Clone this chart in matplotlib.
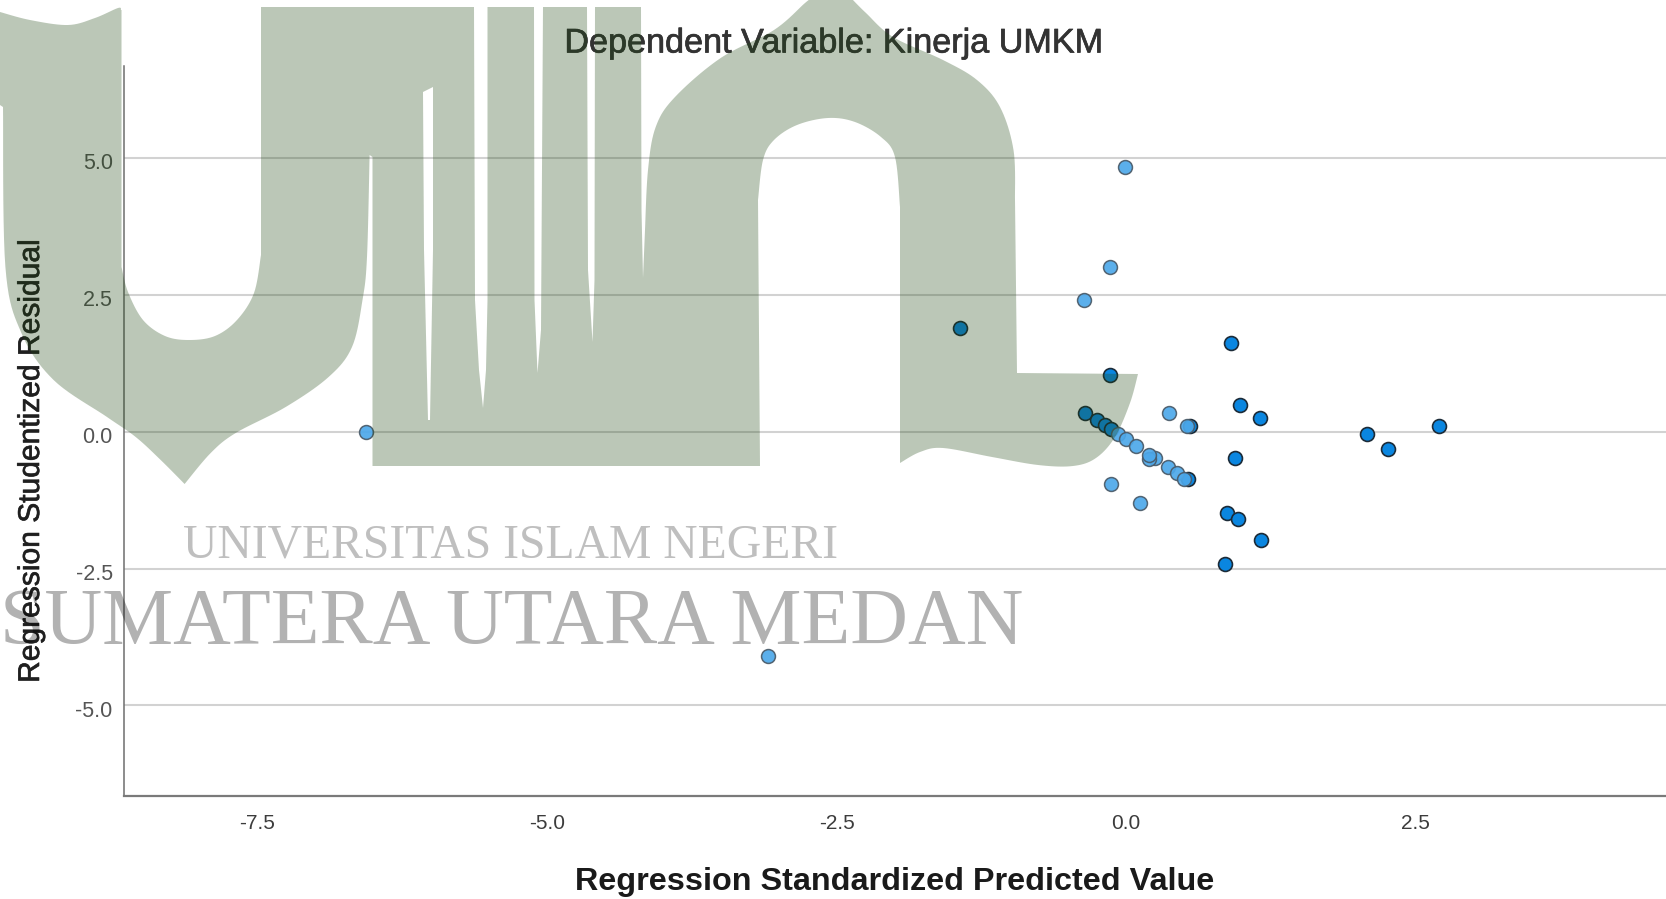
import numpy as np
import matplotlib
matplotlib.use("Agg")
import matplotlib.pyplot as plt
import matplotlib.patheffects as pe
from matplotlib.path import Path
from matplotlib.patches import PathPatch

W, H = 1666, 899
plt.rcParams['font.family'] = ['Liberation Sans', 'DejaVu Sans']

# ---- data ----
light_x = [-6.56, -3.09, -0.01, -0.14, -0.365, 0.374, 0.53, -0.132, 0.118,
           -0.066, 0.0, 0.089, 0.25, 0.201, 0.199, 0.363, 0.438, 0.504]
light_y = [-0.015, -4.09, 4.83, 3.01, 2.41, 0.345, 0.102, -0.951, -1.304,
           -0.044, -0.14, -0.268, -0.488, -0.506, -0.427, -0.652, -0.762, -0.865]
strong_x = [-1.43, -0.14, -0.351, -0.253, -0.181, -0.132, 0.535, 0.55, 0.91, 0.987,
            1.16, 0.941, 0.875, 0.97, 1.168, 0.855, 2.085, 2.26, 2.70]
strong_y = [1.90, 1.03, 0.345, 0.212, 0.12, 0.042, -0.865, 0.102, 1.61, 0.491,
            0.248, -0.478, -1.486, -1.60, -1.975, -2.42, -0.035, -0.31, 0.10]
x_ticks = [-7.5, -5.0, -2.5, 0.0, 2.5]
y_ticks = [-5.0, -2.5, 0.0, 2.5, 5.0]
title = "Dependent Variable: Kinerja UMKM"
x_label = "Regression Standardized Predicted Value"
y_label = "Regression Studentized Residual"
wm_line1 = "UNIVERSITAS ISLAM NEGERI"
wm_line2 = "SUMATERA UTARA MEDAN"

fig = plt.figure(figsize=(W / 100, H / 100), dpi=100, facecolor='white')
ax = fig.add_axes([123.8 / W, (H - 796.4) / H, (W - 123.8) / W, (796.4 - 66) / H])
ax.set_xlim(-8.655, 4.663)
ax.set_ylim(-6.66, 6.675)
for s in ('top', 'right'):
    ax.spines[s].set_visible(False)
ax.spines['left'].set_color('#6e6e6e')
ax.spines['left'].set_linewidth(1.1)
ax.spines['bottom'].set_color('#7a7a7a')
ax.spines['bottom'].set_linewidth(1.6)
ax.set_axisbelow(True)
ax.yaxis.grid(True, color='#d2d2d2', lw=1.5)
ax.xaxis.grid(False)
ax.set_xticks(x_ticks, [f"{v:.1f}" for v in x_ticks])
ax.set_yticks(y_ticks, [f"{v:.1f}" for v in y_ticks])
ax.tick_params(axis='x', length=0, pad=13, labelsize=15, labelcolor='#3c3c3c')
ax.tick_params(axis='y', length=0, pad=8, labelsize=15.5, labelcolor='#555555')
shift = matplotlib.transforms.ScaledTranslation(0, -2.5 / 72, fig.dpi_scale_trans)
for t in ax.get_yticklabels():
    t.set_transform(t.get_transform() + shift)

ax.scatter(strong_x, strong_y, s=100, c='#0a86e0', edgecolors='#1c2b38', linewidths=1.2, zorder=3)
ax.scatter(light_x, light_y, s=100, c='#4da8ea', edgecolors='#4a5a68', linewidths=1.1, alpha=0.92, zorder=4)

thick = [pe.withStroke(linewidth=0.5, foreground='#333333')]
fig.text(833 / W, 1 - 44 / H, title, ha='center', va='center', fontsize=24.6, color='#333333',
         path_effects=thick)
fig.text(895 / W, 1 - 882 / H, x_label, ha='center', va='center', fontsize=23.3,
         color='#1a1a1a', fontweight='bold')
fig.text(31 / W, 1 - 461 / H, y_label, ha='center', va='center', rotation=90, fontsize=21.6,
         color='#1f1f1f', path_effects=thick)


def smooth(pts, n=10):
    p = np.array([pts[0]] + list(pts) + [pts[-1]], float)
    out = []
    for i in range(1, len(p) - 2):
        for t in np.linspace(0, 1, n, endpoint=False):
            out.append(0.5 * ((2 * p[i]) + (-p[i - 1] + p[i + 1]) * t
                              + (2 * p[i - 1] - 5 * p[i] + 4 * p[i + 1] - p[i + 2]) * t ** 2
                              + (-p[i - 1] + 3 * p[i] - 3 * p[i + 1] + p[i + 2]) * t ** 3))
    out.append(p[-2])
    return out


# ---- watermark, laid over everything like the scanned original ----
wm = fig.add_axes([0, 0, 1, 1], zorder=10)
wm.set_xlim(0, W)
wm.set_ylim(H, 0)
wm.axis('off')
wm.patch.set_alpha(0)

outline = []
outline += smooth([(0, 12), (30, 20), (68, 25), (95, 18), (118, 8), (121, 10)])
outline += [(121.5, 10), (121.5, 267)]
outline += smooth([(121.5, 267), (128, 292), (143, 320), (165, 336), (189, 340),
                   (215, 336), (237, 320), (254, 293), (261, 255)])
outline += [(261, 7), (474, 7), (475, 300), (479, 370), (483, 408), (486, 370), (487.5, 300), (487.5, 7),
            (534, 7), (534.5, 300), (537.5, 373), (541, 330), (543, 7),
            (587, 7), (588, 270), (592.5, 342), (594.5, 280), (595, 7), (641, 7), (641.5, 210), (643, 278)]
outline += smooth([(645, 230), (648, 170), (655.7, 127), (675, 97), (720.7, 58), (774, 30), (805, 3), (812, -2)])
outline += smooth([(851, -2), (866, 13), (893, 37), (943, 60), (977, 80), (1000, 107), (1013.5, 150), (1015, 200)])
outline += [(1017, 373), (1138, 374)]
outline += smooth([(1138, 374), (1130, 403), (1115, 437), (1096, 458), (1073, 466), (1038, 465),
                   (992, 457), (943, 448), (920, 452), (900, 463)])
outline += [(900, 207)]
outline += smooth([(900, 207), (895, 157), (881, 137), (855, 122), (828, 118), (797, 125),
                   (774, 140), (763, 160), (758, 200)])
outline += [(760, 466), (372.5, 466), (372.5, 157), (369.6, 155)]
outline += smooth([(369.6, 155), (367, 257), (362.5, 300), (352, 347), (328.6, 377), (285.7, 407),
                   (235.7, 433), (210.7, 453), (184.6, 484)])
outline += smooth([(184.6, 484), (160.7, 460), (135.7, 437), (107, 417), (53.6, 380), (21.4, 333),
                   (5.4, 267), (3, 107)])
outline += [(0, 105)]
outline = np.array(outline)

slit = np.array([(423, 92), (433, 87), (433, 250), (430, 420), (428, 420), (424, 250)], float)


def area(a):
    return 0.5 * np.sum(a[:, 0] * np.roll(a[:, 1], -1) - np.roll(a[:, 0], -1) * a[:, 1])


if np.sign(area(outline)) == np.sign(area(slit)):
    slit = slit[::-1]
verts = np.vstack([outline, outline[:1], slit, slit[:1]])
codes = ([Path.MOVETO] + [Path.LINETO] * (len(outline) - 1) + [Path.CLOSEPOLY]
         + [Path.MOVETO] + [Path.LINETO] * (len(slit) - 1) + [Path.CLOSEPOLY])
wm.add_patch(PathPatch(Path(verts, codes), facecolor=(31 / 255, 72 / 255, 18 / 255), alpha=0.30,
                       edgecolor='none', zorder=1))

wm.text(183, 557, wm_line1, family='Liberation Serif', fontsize=34.3, color='black', alpha=0.25,
        ha='left', va='baseline', zorder=2)
wm.text(0, 644, wm_line2, family='Liberation Serif', fontsize=57.5, color='black', alpha=0.30,
        ha='left', va='baseline', zorder=2)

fig.savefig('out.png', dpi=100)
